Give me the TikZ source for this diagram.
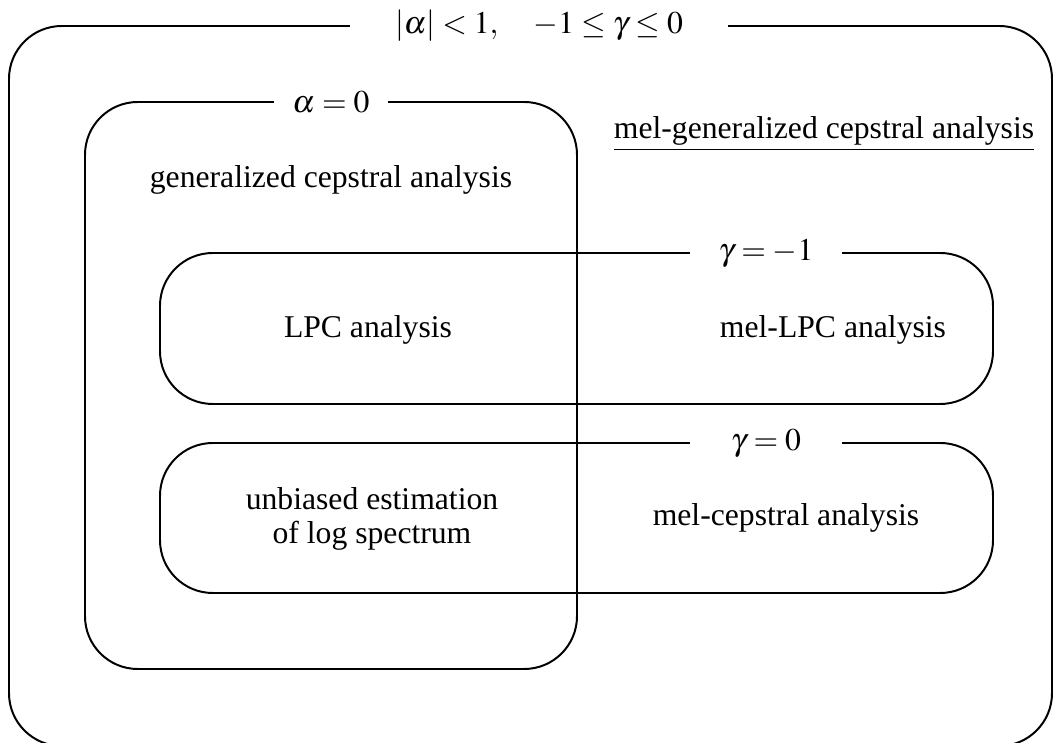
\documentclass[tikz,border=0pt]{standalone}
\usepackage{mathptmx}
\usepackage{fontspec}
\setmainfont{Liberation Serif}
\usepackage{tikz}
\usetikzlibrary{positioning}
\tikzset{
  region/.style={draw=black, line width=0.75pt, rounded corners=20pt},
  tag/.style={fill=white, inner sep=0pt, minimum height=14pt},
  txt/.style={inner sep=1pt, align=center}
}

\begin{document}
\begin{tikzpicture}[x=0.379pt, y=-0.379pt, font=\fontsize{12}{13}\selectfont]
  \useasboundingbox (0,0) rectangle (1060,743);
  % nested regions
  \draw[region] (9,26) rectangle (1052,746);
  \draw[region] (85,102) rectangle (577,669);
  \draw[region] (160,253) rectangle (993,404);
  \draw[region] (160,443) rectangle (993,593);
  % parameter tags breaking the top edges
  \node[tag, minimum width=143pt] (outer) at (539,26) {$|\alpha| < 1, \quad -1 \le \gamma \le 0$};
  \node[tag, minimum width=43pt] (alph) at (331,102) {$\alpha = 0$};
  \node[tag, minimum width=57.6pt] (gm1) at (766,253) {$\gamma = -1$};
  \node[tag, minimum width=57.6pt] (g0) at (766,443) {$\gamma = 0$};
  % method names
  \node[txt] (melgen) at (824,134) {\underline{mel-generalized cepstral analysis}};
  \node[txt] (gen) at (331,180) {generalized cepstral analysis};
  \node[txt] (lpc) at (368,330) {LPC analysis};
  \node[txt] (mlpc) at (833,330) {mel-LPC analysis};
  \node[txt] (ube) at (372,519) {unbiased estimation\\of log spectrum};
  \node[txt] (mcep) at (786,518) {mel-cepstral analysis};
\end{tikzpicture}
\end{document}
